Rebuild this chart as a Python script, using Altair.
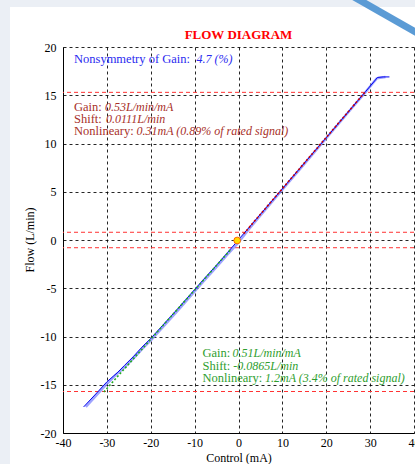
import altair as alt
import pandas as pd

# ---------------- data ----------------
# forward sweep (dark blue)
fwd_x = [-35.3, -32, -30, -28.5, -27.5, -26, -24, -22, -20, -17, -14, -11, -8, -5, -2.5, -0.5,
         0.5, 2.5, 5, 8, 11, 14, 17, 20, 23, 26, 29, 31.7, 33, 34.4]
fwd_y = [-17.3, -15.7, -14.7, -14.1, -13.7, -13.0, -12.1, -11.1, -10.2, -8.7, -7.2, -5.65, -4.1, -2.6, -1.3, -0.25,
         0.3, 1.35, 2.67, 4.25, 5.84, 7.43, 9.02, 10.6, 12.2, 13.8, 15.4, 16.85, 16.9, 16.9]
# return sweep (light blue)
ret_x = [-34.8, -32, -30, -28, -26, -24, -22, -20, -17, -14, -11, -8, -5, -2.5, -0.3,
         0.8, 2.5, 5, 8, 11, 14, 17, 20, 23, 26, 29, 31.5, 33.5]
ret_y = [-17.3, -15.9, -14.9, -14.0, -13.2, -12.3, -11.3, -10.4, -8.9, -7.4, -5.85, -4.3, -2.8, -1.5, -0.4,
         0.2, 1.2, 2.55, 4.15, 5.75, 7.35, 8.95, 10.55, 12.15, 13.75, 15.35, 16.75, 16.9]
# linear fits
pos_fit_x = [1.2, 28.8]
pos_fit_y = [0.65, 15.3]
neg_fit_x = [-30.7, -1.6]
neg_fit_y = [-15.75, -0.9]
# limit lines
limit_y = [15.3, 0.8, -0.8, -15.7]
# null point
null_x = [-0.3]
null_y = [-0.05]

x_ticks = [-40, -30, -20, -10, 0, 10, 20, 30, 40]
y_ticks = [-20, -15, -10, -5, 0, 5, 10, 15, 20]

title_text = "FLOW DIAGRAM"
x_title = "Control (mA)"
y_title = "Flow (L/min)"

nonsym_label = "Nonsymmetry of Gain:"
nonsym_value = "4.7 (%)"
pos_labels = ["Gain:", "Shift:", "Nonlineary:"]
pos_values = ["0.53L/min/mA", "0.0111L/min", "0.31mA (0.89% of rated signal)"]
neg_labels = ["Gain:", "Shift:", "Nonlineary:"]
neg_values = ["0.51L/min/mA", "-0.0865L/min", "1.2mA (3.4% of rated signal)"]

FONT = "Liberation Serif"

# ---------------- scales / axes ----------------
xs = alt.Scale(domain=[-40, 40], nice=False, zero=False)
ys = alt.Scale(domain=[-20, 20], nice=False, zero=False)
xaxis = alt.Axis(values=x_ticks, title=x_title, grid=True, ticks=False,
                 labelPadding=4, titlePadding=4, labelFlush=False,
                 labelExpr="toString(datum.value)")
yaxis = alt.Axis(values=y_ticks, title=None, grid=True, ticks=False,
                 labelPadding=7, labelFlush=False,
                 labelExpr="toString(datum.value)")


def X(f):
    return alt.X(f, type="quantitative", scale=xs, axis=xaxis)


def Y(f):
    return alt.Y(f, type="quantitative", scale=ys, axis=yaxis)


fwd = pd.DataFrame({"x": fwd_x, "y": fwd_y, "o": list(range(len(fwd_x)))})
ret = pd.DataFrame({"x": ret_x, "y": ret_y, "o": list(range(len(ret_x)))})
pfit = pd.DataFrame({"x": pos_fit_x, "y": pos_fit_y})
nfit = pd.DataFrame({"x": neg_fit_x, "y": neg_fit_y})
lim = pd.DataFrame({"y": limit_y})
nul = pd.DataFrame({"x": null_x, "y": null_y})
dummy = pd.DataFrame({"k": [0]})

layers = []

# page decoration (outside plot area)
deco = alt.Chart(dummy)
layers.append(deco.mark_rect(color="#ebeff5").encode(
    x=alt.value(-63), x2=alt.value(-53), y=alt.value(-47), y2=alt.value(417)))
layers.append(deco.mark_rect(color="#ebeff5").encode(
    x=alt.value(-63), x2=alt.value(352), y=alt.value(-47), y2=alt.value(-40)))
layers.append(deco.mark_rule(color="#5b9bd5", strokeWidth=7).encode(
    x=alt.value(291), x2=alt.value(356), y=alt.value(-50), y2=alt.value(-13)))

# limit lines
layers.append(alt.Chart(lim).mark_rule(color="#ff3333", strokeDash=[4, 3], strokeWidth=1).encode(
    y=Y("y")))

# curves
layers.append(alt.Chart(ret).mark_line(color="#7f86ff", strokeWidth=2.5, opacity=0.75).encode(
    x=X("x"), y=Y("y"), order="o:Q"))
layers.append(alt.Chart(fwd).mark_line(color="#0000ee", strokeWidth=1).encode(
    x=X("x"), y=Y("y"), order="o:Q"))
layers.append(alt.Chart(pfit).mark_line(color="#cc0000", strokeWidth=1.6, strokeDash=[2, 2]).encode(
    x=X("x"), y=Y("y")))
layers.append(alt.Chart(nfit).mark_line(color="#22aa22", strokeWidth=1.6, strokeDash=[2, 2]).encode(
    x=X("x"), y=Y("y")))
layers.append(alt.Chart(nul).mark_point(shape="circle", filled=True, fill="#ffdd00", stroke="#ff6600",
                                        strokeWidth=1, size=45, opacity=1).encode(x=X("x"), y=Y("y")))


# annotations
def txt(s, px, py, color, italic=False, size=12.5, weight="normal", align="left",
        baseline="alphabetic", angle=0):
    return deco.mark_text(align=align, baseline=baseline, font=FONT, fontSize=size,
                          fontWeight=weight, angle=angle,
                          color=color, fontStyle="italic" if italic else "normal").encode(
        x=alt.value(px), y=alt.value(py), text=alt.value(s))


# chart title and y-axis title
layers.append(txt(title_text, 175.5, -8, "#ff0000", size=13, weight="bold", align="center"))
layers.append(txt(y_title, -33, 193, "black", size=12, align="center", baseline="middle", angle=270))

BLUE = "#2a2af0"
DRED = "#a8302a"
GREEN = "#2e9e2e"
layers.append(txt(nonsym_label, 11, 16, BLUE))
layers.append(txt(nonsym_value, 133.5, 16, BLUE, True, 12))
for i, (lab, val) in enumerate(zip(pos_labels, pos_values)):
    yy = 64 + 12 * i
    layers.append(txt(lab, 11, yy, DRED))
    layers.append(txt(val, [42, 43, 73.5][i], yy, DRED, True, 12))
for i, (lab, val) in enumerate(zip(neg_labels, neg_values)):
    yy = 310 + 12.7 * i
    layers.append(txt(lab, 139.5, yy, GREEN))
    layers.append(txt(val, [169.5, 170.3, 202][i], yy, GREEN, True, 12))

chart = alt.layer(*layers).properties(
    width=351, height=386,
    autosize="none",
    padding={"left": 63, "top": 47, "right": 1, "bottom": 31},
    background="white",
).configure_axis(
    labelFont=FONT, titleFont=FONT, labelFontSize=12, titleFontSize=12,
    labelColor="black", titleColor="black", titleFontWeight="normal",
    domainColor="black", domainWidth=1,
    gridColor="black", gridDash=[3, 3], gridOpacity=0.85, gridWidth=1,
).configure_view(stroke=None)

chart.save("out.html", embed_options={"renderer": "svg", "actions": False})
